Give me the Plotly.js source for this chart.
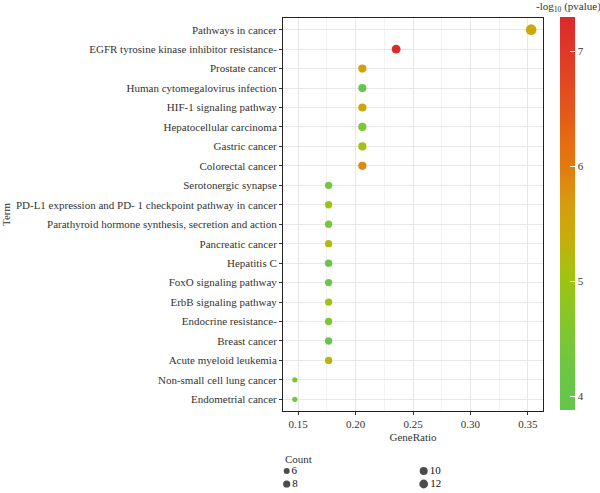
<!DOCTYPE html>
<html>
<head>
<meta charset="utf-8">
<script src="https://cdn.plot.ly/plotly-3.0.1.min.js"></script>
<style>html,body{margin:0;padding:0;background:#fff;}#chart{width:600px;height:493px;}</style>
</head>
<body>
<div id="chart"></div>
<script>
// ---- data ----
var terms = [
  "Pathways in cancer",
  "EGFR tyrosine kinase inhibitor resistance-",
  "Prostate cancer",
  "Human cytomegalovirus infection",
  "HIF-1 signaling pathway",
  "Hepatocellular carcinoma",
  "Gastric cancer",
  "Colorectal cancer",
  "Serotonergic synapse",
  "PD-L1 expression and PD- 1 checkpoint pathway in cancer",
  "Parathyroid hormone synthesis, secretion and action",
  "Pancreatic cancer",
  "Hepatitis C",
  "FoxO signaling pathway",
  "ErbB signaling pathway",
  "Endocrine resistance-",
  "Breast cancer",
  "Acute myeloid leukemia",
  "Non-small cell lung cancer",
  "Endometrial cancer"
];
var geneRatio = [0.3529, 0.2353, 0.2059, 0.2059, 0.2059, 0.2059, 0.2059, 0.2059,
  0.1765, 0.1765, 0.1765, 0.1765, 0.1765, 0.1765, 0.1765, 0.1765, 0.1765, 0.1765,
  0.1471, 0.1471];
var counts = [12, 8, 7, 7, 7, 7, 7, 7, 6, 6, 6, 6, 6, 6, 6, 6, 6, 6, 5, 5];
var negLogP = [5.45, 7.30, 5.60, 4.00, 5.50, 4.55, 5.05, 5.85,
  4.35, 4.95, 4.40, 5.20, 3.88, 4.05, 5.05, 4.50, 3.95, 5.30, 4.45, 4.30];
var colorTicks = [4, 5, 6, 7];
var xTicks = [0.15, 0.20, 0.25, 0.30, 0.35];
var xTickText = ["0.15", "0.20", "0.25", "0.30", "0.35"];
var legendCounts = [6, 8, 10, 12];
var legendLabels = ["6", "8", "10", "12"];

// ---- styling / scales ----
var FONT = "Liberation Serif, Times New Roman, serif";
var TXT = "#333333";
var W = 600, H = 493;
var cMin = Math.min.apply(null, negLogP), cMax = Math.max.apply(null, negLogP);
var cntMin = Math.min.apply(null, counts), cntMax = Math.max.apply(null, counts);
function sizeOf(c) { // area-like size scale (ggplot style)
  var t = Math.max(0, (c - cntMin) / (cntMax - cntMin));
  return 5.3 + 5.4 * Math.sqrt(t);
}
var colorscale = [
  [0.000, "#64c64c"], [0.035, "#66c64a"], [0.123, "#70c640"], [0.240, "#88c628"],
  [0.327, "#9cc410"], [0.357, "#a8c010"], [0.444, "#c8ac0a"], [0.532, "#d89a10"],
  [0.620, "#e27a0e"], [0.678, "#e66c12"], [0.766, "#e4561c"], [0.912, "#e03828"],
  [1.000, "#dc2a2a"]
];

// plot area in pixels
var px0 = 283, px1 = 543, py0 = 18, py1 = 411;
// colorbar geometry in pixels
var cbL = 560, cbT = 17.3, cbB = 410, cbW = 15.3;

var main = {
  type: "scatter", mode: "markers",
  x: geneRatio, y: terms,
  xaxis: "x", yaxis: "y",
  marker: {
    size: counts.map(sizeOf),
    sizemode: "diameter",
    color: negLogP, cmin: cMin, cmax: cMax,
    colorscale: colorscale,
    line: {width: 0},
    opacity: 1,
    colorbar: {
      x: cbL / W, xanchor: "left", xpad: 0,
      y: 1 - cbB / H, yanchor: "bottom", ypad: 0,
      len: cbB - cbT, lenmode: "pixels",
      thickness: cbW, thicknessmode: "pixels",
      outlinewidth: 0,
      tickvals: colorTicks, ticktext: colorTicks.map(String),
      ticks: "inside", ticklen: 5, tickwidth: 1, tickcolor: "#ffffff",
      tickfont: {family: FONT, size: 11, color: TXT}
    }
  },
  hoverinfo: "x+y", showlegend: false
};

// size legend drawn on a helper axis pair
var legCol = legendCounts.map(function (c, i) { return Math.floor(i / 2); });
var legRow = legendCounts.map(function (c, i) { return i % 2; });
var sizeLegend = {
  type: "scatter", mode: "markers+text",
  x: legCol, y: legRow, xaxis: "x2", yaxis: "y2",
  text: legendLabels, textposition: "middle right",
  textfont: {family: FONT, size: 11, color: "#111111"},
  marker: {size: legendCounts.map(function (c) { return sizeOf(c) * 0.82; }), color: "#000000", line: {width: 0}},
  hoverinfo: "skip", showlegend: false, cliponaxis: false
};
// helper axis mapping: col 0 -> 286.7px, col 1 -> 423.7px ; row 0 -> 471px, row step 13px
var colX0 = 286.7, colStep = 137, rowY0 = 471, rowStep = 13;

// left-edge white tick marks on the colour bar (ggplot style)
var shapes = colorTicks.map(function (v) {
  var ypix = cbB - (v - cMin) / (cMax - cMin) * (cbB - cbT);
  return {type: "line", xref: "paper", yref: "paper",
    x0: cbL / W, x1: (cbL + 5) / W, y0: 1 - ypix / H, y1: 1 - ypix / H,
    line: {color: "#ffffff", width: 1}};
});

var layout = {
  width: W, height: H,
  margin: {l: 0, r: 0, t: 0, b: 0, pad: 0},
  paper_bgcolor: "#ffffff", plot_bgcolor: "rgba(0,0,0,0)",
  font: {family: FONT, size: 11, color: TXT},
  showlegend: false,
  xaxis: {
    domain: [px0 / W, px1 / W],
    range: [0.1368, 0.3632],
    tickvals: xTicks, ticktext: xTickText,
    ticks: "outside", ticklen: 3, tickwidth: 1, tickcolor: "#333333",
    tickfont: {family: FONT, size: 11, color: TXT},
    showgrid: true, gridcolor: "#e8e8e8", gridwidth: 1,
    minor: {dtick: 0.025, tick0: 0.125, showgrid: true, gridcolor: "#f3f3f3", gridwidth: 1},
    showline: true, linecolor: "#222222", linewidth: 1, mirror: true,
    zeroline: false, anchor: "y",
    title: {text: "GeneRatio", font: {family: FONT, size: 11, color: TXT}, standoff: 4}
  },
  yaxis: {
    domain: [1 - py1 / H, 1 - py0 / H],
    type: "category", categoryorder: "array", categoryarray: terms,
    range: [terms.length - 1 + 0.6, -0.6],
    ticks: "outside", ticklen: 3, tickwidth: 1, tickcolor: "#333333",
    tickfont: {family: FONT, size: 11, color: TXT},
    showgrid: true, gridcolor: "#e8e8e8", gridwidth: 1,
    showline: true, linecolor: "#222222", linewidth: 1, mirror: true,
    zeroline: false, anchor: "x",
    title: {text: "Term", font: {family: FONT, size: 11, color: TXT}, standoff: 4}
  },
  xaxis2: {
    domain: [0, 1], anchor: "y2",
    range: [-colX0 / colStep, (W - colX0) / colStep],
    visible: false, fixedrange: true
  },
  yaxis2: {
    domain: [0, 1], anchor: "x2",
    range: [(H - rowY0) / rowStep, -rowY0 / rowStep],
    visible: false, fixedrange: true
  },
  shapes: shapes,
  annotations: [
    {text: "-log<sub>10</sub> (pvalue)", xref: "paper", yref: "paper",
      x: (cbL + cbW / 2 + 1) / W, y: 1 - 7 / H, xanchor: "center", yanchor: "middle",
      showarrow: false, font: {family: FONT, size: 11, color: TXT}},
    {text: "Count", xref: "paper", yref: "paper",
      x: px0 / W, y: 1 - 459 / H, xanchor: "left", yanchor: "middle",
      showarrow: false, font: {family: FONT, size: 11, color: TXT}}
  ]
};

Plotly.newPlot("chart", [main, sizeLegend], layout, {displayModeBar: false, staticPlot: true});
</script>
</body>
</html>
